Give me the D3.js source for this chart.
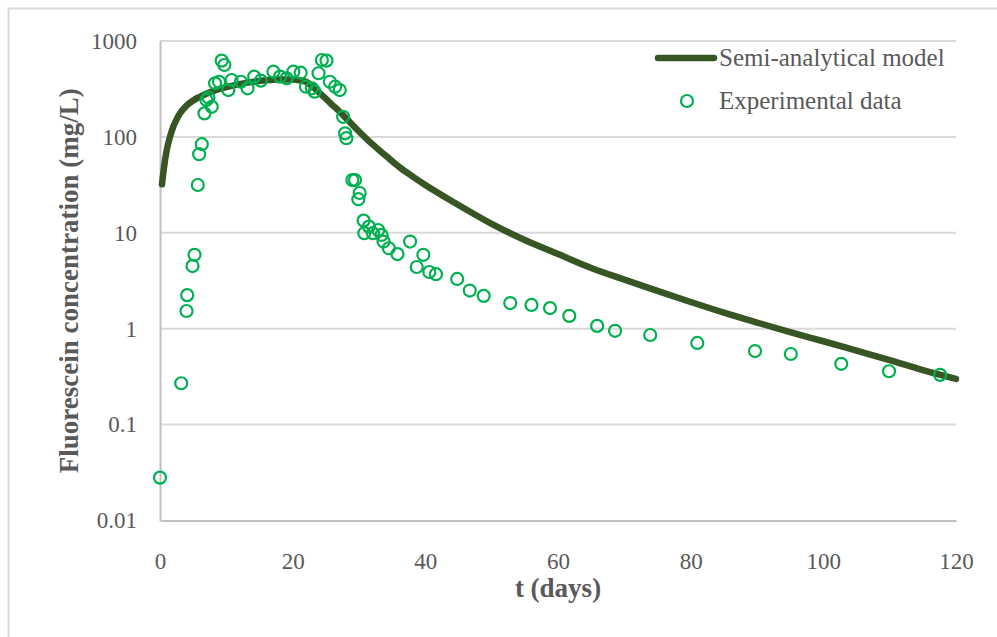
<!DOCTYPE html>
<html>
<head>
<meta charset="utf-8">
<script src="https://cdn.jsdelivr.net/npm/d3@7"></script>
<style>
body { margin: 0; background: #fff; }
text { font-family: "Liberation Serif", "Times New Roman", serif; }
</style>
</head>
<body>
<script>
// experimental data (days, mg/L)
let expDays = [0.0, 3.2, 4.0, 4.1, 4.9, 5.2, 5.7, 5.9, 6.3, 6.7, 7.0, 7.3, 7.8, 8.3, 8.9, 9.3, 9.7, 10.3, 10.8, 12.2,
	13.2, 14.2, 15.2, 17.1, 18.1, 19.1, 20.1, 21.2, 22.0, 22.9, 23.3, 23.9, 24.4, 25.1, 25.6, 26.4, 27.1, 27.6, 27.9, 28.1,
	29.0, 29.4, 30.1, 29.9, 30.7, 30.8, 31.5, 32.1, 32.9, 33.4, 33.7, 34.5, 35.8, 37.7, 39.7, 38.7, 40.6, 41.6,
	44.8, 46.7, 48.8, 52.8, 56.0, 58.8, 61.7, 65.9, 68.6, 73.9, 81.0, 89.7, 95.1, 102.7, 109.9, 117.6];
let expConc = [0.028, 0.27, 1.53, 2.24, 4.5, 5.9, 31.5, 66, 84, 176, 243, 258, 206, 362, 376, 624, 562, 308, 392, 376,
	321, 425, 386, 479, 425, 408, 479, 467, 334, 321, 296, 461, 634, 624, 376, 334, 308, 162, 109, 97,
	35.5, 35.5, 26, 22.4, 13.4, 9.9, 11.6, 9.9, 10.7, 9.5, 8.1, 6.9, 6.0, 8.1, 5.9, 4.4, 3.9, 3.7,
	3.3, 2.5, 2.2, 1.85, 1.77, 1.64, 1.36, 1.07, 0.95, 0.86, 0.71, 0.585, 0.545, 0.43, 0.36, 0.33];

// semi-analytical model
let modelDays = [0.3, 0.6, 1, 1.5, 2, 2.5, 3, 4, 5, 6, 8, 10, 12, 14, 16, 18, 20, 21, 22, 23, 24, 25, 26, 27, 28, 29, 30,
	32, 34, 36, 38, 40, 45, 50, 55, 60, 65, 70, 75, 80, 85, 90, 95, 100, 105, 110, 115, 120];
let modelConc = [32, 48, 72, 100, 128, 152, 175, 212, 240, 262, 300, 330, 355, 375, 390, 396, 396, 390, 376, 335, 290, 250, 215, 185, 158, 134, 114,
	84, 64, 49, 39, 31.5, 19.5, 12.4, 8.4, 6.0, 4.3, 3.25, 2.48, 1.9, 1.47, 1.16, 0.92, 0.74, 0.59, 0.47, 0.37, 0.30];

let xTicks = [0, 20, 40, 60, 80, 100, 120];
let yTicks = [0.01, 0.1, 1, 10, 100, 1000];
let legendNames = ['Semi-analytical model', 'Experimental data'];

const width = 997, height = 637;
const plotL = 160, plotR = 956, plotT = 41, plotB = 520.5;

const svg = d3.select("body").append("svg").attr("width", width).attr("height", height);

// chart frame (only top / left visible)
svg.append('rect').attr('x', 8.5).attr('y', 8.5).attr('width', 1100).attr('height', 700)
	.attr('fill', 'none').attr('stroke', '#d9d9d9').attr('stroke-width', 2);

const x = d3.scaleLinear().domain([0, 120]).range([plotL, plotR]);
const y = d3.scaleLog().domain([0.01, 1000]).range([plotB, plotT]);

// gridlines
svg.append('g').selectAll('line').data(yTicks.slice(1)).enter().append('line')
	.attr('x1', plotL).attr('x2', plotR).attr('y1', d => y(d)).attr('y2', d => y(d))
	.attr('stroke', '#d9d9d9').attr('stroke-width', 2);

// axes
let xAxis = svg.append('g').attr('transform', 'translate(0,' + plotB + ')')
	.call(d3.axisBottom(x).tickValues(xTicks).tickSize(0).tickPadding(32));
let yAxis = svg.append('g').attr('transform', 'translate(' + plotL + ',0)')
	.call(d3.axisLeft(y).tickValues(yTicks).tickFormat(d => String(d)).tickSize(0).tickPadding(23));
[xAxis, yAxis].forEach(a => {
	a.select('.domain').attr('stroke', '#bfbfbf').attr('stroke-width', 2);
	a.selectAll('text').attr('font-size', 23).attr('fill', '#595959').attr('font-family', '"Liberation Serif", serif');
});

// model line
let lineFunc = d3.line().x((d, i) => x(modelDays[i])).y(d => y(d)).curve(d3.curveMonotoneX);
svg.append('path').datum(modelConc).attr('d', lineFunc)
	.attr('fill', 'none').attr('stroke', '#375623').attr('stroke-width', 6.5)
	.attr('stroke-linecap', 'round').attr('stroke-linejoin', 'round');

// experimental points
svg.append('g').selectAll('circle').data(expConc).enter().append('circle')
	.attr('cx', (d, i) => x(expDays[i])).attr('cy', d => y(d)).attr('r', 6)
	.attr('fill', 'none').attr('stroke', '#00b050').attr('stroke-width', 2.2);

// axis titles
svg.append('text').attr('x', (plotL + plotR) / 2).attr('y', 597).attr('text-anchor', 'middle')
	.attr('font-size', 27).attr('font-weight', 'bold').attr('fill', '#595959').text('t (days)');
svg.append('text').attr('transform', 'translate(78,' + ((plotT + plotB) / 2) + ') rotate(-90)').attr('text-anchor', 'middle')
	.attr('font-size', 27).attr('font-weight', 'bold').attr('fill', '#595959').text('Fluorescein concentration (mg/L)');

// legend
let lg = svg.append('g');
lg.append('line').attr('x1', 658).attr('x2', 714).attr('y1', 58).attr('y2', 58)
	.attr('stroke', '#375623').attr('stroke-width', 6.5).attr('stroke-linecap', 'round');
lg.append('circle').attr('cx', 687).attr('cy', 101).attr('r', 6)
	.attr('fill', 'none').attr('stroke', '#00b050').attr('stroke-width', 2.2);
lg.selectAll('text').data(legendNames).enter().append('text')
	.attr('x', 719).attr('y', (d, i) => 66 + i * 43).attr('font-size', 25).attr('fill', '#595959').text(d => d);
</script>
</body>
</html>
